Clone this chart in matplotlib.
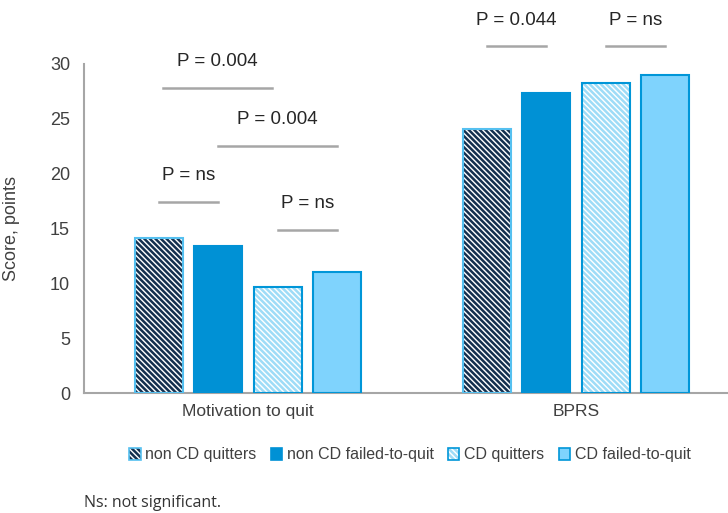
import matplotlib
matplotlib.use("Agg")
import matplotlib.pyplot as plt
from matplotlib.patches import Patch

plt.rcParams['font.family'] = ['Liberation Sans', 'DejaVu Sans']
plt.rcParams['hatch.linewidth'] = 1.8

# scores per group, one list per subgroup
categories = ['Motivation to quit', 'BPRS']
series_names = ['non CD quitters', 'non CD failed-to-quit', 'CD quitters', 'CD failed-to-quit']
non_cd_quitters = [14.1, 24.1]
non_cd_failed = [13.4, 27.4]
cd_quitters = [9.7, 28.3]
cd_failed = [11.0, 29.0]

# pairwise comparisons: (category index, bar i, bar j, label, line height)
comparisons = [
    (0, 0, 2, 'P = 0.004', 27.8),
    (0, 1, 3, 'P = 0.004', 22.5),
    (0, 0, 1, 'P = ns', 17.4),
    (0, 2, 3, 'P = ns', 14.9),
    (1, 0, 1, 'P = 0.044', 31.6),
    (1, 2, 3, 'P = ns', 31.6),
]

series = [non_cd_quitters, non_cd_failed, cd_quitters, cd_failed]

blue = '#0091d5'
light = '#7fd3fd'
edge = '#0096d8'
# face, hatch colour, hatch pattern, outline
styles = [
    ('white', '#14304f', '\\' * 6, '#55c0f0'),
    (blue, blue, None, blue),
    ('white', '#9edcf7', '\\' * 6, edge),
    (light, light, None, edge),
]

fig = plt.figure(figsize=(7.28, 5.13), dpi=100)
ax = fig.add_axes([84 / 728, 120 / 513, 644 / 728, 329 / 513])

width = 0.146
step = 0.181
offsets = [(k - 1.5) * step for k in range(4)]
x = list(range(len(categories)))

handles = []
for k, vals in enumerate(series):
    face, hcol, hatch, outline = styles[k]
    pos = [xi + offsets[k] for xi in x]
    ax.bar(pos, vals, width, color=face, edgecolor=hcol, hatch=hatch, linewidth=0, zorder=2)
    ax.bar(pos, vals, width, fill=False, edgecolor=outline, linewidth=1.5, zorder=3)
    h1 = Patch(facecolor=face, edgecolor=hcol, hatch=hatch, linewidth=0)
    h2 = Patch(fill=False, edgecolor=outline, linewidth=1.2)
    handles.append((h1, h2))

for cat, i, j, label, level in comparisons:
    x0 = cat + offsets[i]
    x1 = cat + offsets[j]
    if (i, j) == (0, 2):
        # the top bracket sits a little inside the bar centres
        x0 += 0.012
        x1 -= 0.018
    ax.plot([x0, x1], [level, level], color='#a6a6a6', lw=1.8, clip_on=False, zorder=4)
    ax.annotate(label, ((x0 + x1) / 2, level), xytext=(0, 19), textcoords='offset points',
                ha='center', va='center', fontsize=13.5, color='#262626', annotation_clip=False)

ax.set_xlim(-0.5, 1.463)
ax.set_ylim(0, 30)
ax.set_yticks([0, 5, 10, 15, 20, 25, 30])
ax.set_xticks(x)
ax.set_xticklabels(categories)
ax.tick_params(axis='y', length=0, pad=10, labelsize=13, labelcolor='#404040')
ax.tick_params(axis='x', length=0, pad=8, labelsize=12.5, labelcolor='#404040')
ax.set_ylabel('Score, points', fontsize=13, color='#404040')
ax.yaxis.set_label_coords(-0.099, 0.5)

for s in ['top', 'right']:
    ax.spines[s].set_visible(False)
for s in ['left', 'bottom']:
    ax.spines[s].set_color('#a6a6a6')
    ax.spines[s].set_linewidth(1.5)

fig.legend(handles, series_names, loc='center', bbox_to_anchor=(410 / 728, 1 - 455 / 513),
           ncol=4, frameon=False, fontsize=11.5, handlelength=0.7, handleheight=0.7,
           handletextpad=0.3, columnspacing=0.9, labelcolor='#404040')

fig.text(84 / 728, 1 - 503 / 513, 'Ns: not significant.', fontsize=11.5, family='Open Sans',
         color='#333333', va='center', ha='left')

fig.savefig('out.png', dpi=100)
